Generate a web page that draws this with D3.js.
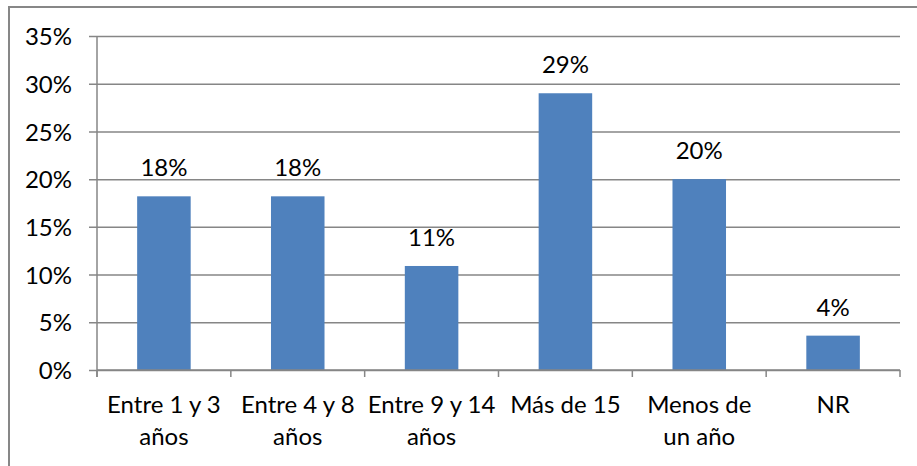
<!DOCTYPE html>
<html>
<head>
<meta charset="utf-8">
<script src="https://cdn.jsdelivr.net/npm/d3@7"></script>
<style>
  body { margin: 0; background: #fff; }
  text { font-family: Lato, "Open Sans", sans-serif; fill: #000; }
</style>
</head>
<body>
<div id="chart"></div>
<script>
// data
var categories = ["Entre 1 y 3|años", "Entre 4 y 8|años", "Entre 9 y 14|años", "Más de 15", "Menos de|un año", "NR"];
var values = [18.2, 18.2, 10.9, 29.0, 20.0, 3.6];
var valueLabels = ["18%", "18%", "11%", "29%", "20%", "4%"];
var yTicks = [0, 5, 10, 15, 20, 25, 30, 35];

var W = 917, H = 466;
var margin = {top: 36, right: 17, bottom: 96, left: 97},
    width = W - margin.left - margin.right,
    height = H - margin.top - margin.bottom;
var fontSize = "24px";

var svg = d3.select("#chart").append("svg")
    .attr("width", W)
    .attr("height", H);

// outer frame, runs off the right and bottom edge
svg.append("rect")
    .attr("x", 9).attr("y", 7)
    .attr("width", 940).attr("height", 500)
    .attr("fill", "none")
    .attr("stroke", "#878787")
    .attr("stroke-width", 2);

var g = svg.append("g")
    .attr("transform", "translate(" + margin.left + "," + margin.top + ")");

var x = d3.scaleBand()
    .domain(categories)
    .range([0, width])
    .paddingInner(0.6)
    .paddingOuter(0.3);

var y = d3.scaleLinear()
    .domain([0, 35])
    .range([height, 0]);

// gridlines + y axis
var yAxis = d3.axisLeft(y)
    .tickValues(yTicks)
    .tickSizeInner(-(width + 8))
    .tickSizeOuter(0)
    .tickPadding(0)
    .tickFormat(function(d) { return d + "%"; });

var gy = g.append("g")
    .attr("transform", "translate(" + (-8) + ",0)")
    .call(yAxis);
gy.select(".domain").remove();
gy.selectAll(".tick line")
    .attr("stroke", "#868686")
    .attr("stroke-width", 1.5);
gy.selectAll(".tick text")
    .attr("x", -17)
    .attr("dy", "0.36em")
    .style("font-size", fontSize)
    .style("font-family", "Lato, sans-serif")
    .attr("fill", "#000");

// vertical axis line
g.append("line")
    .attr("x1", 0).attr("x2", 0)
    .attr("y1", 0).attr("y2", height + 7)
    .attr("stroke", "#868686")
    .attr("stroke-width", 1.5);

// bars
g.selectAll(".bar")
    .data(values)
  .enter().append("rect")
    .attr("class", "bar")
    .attr("x", function(d, i) { return x(categories[i]); })
    .attr("y", function(d) { return y(d); })
    .attr("width", x.bandwidth())
    .attr("height", function(d) { return height - y(d); })
    .attr("fill", "#4F81BD");

// x axis: baseline and category boundary ticks
g.append("line")
    .attr("x1", 0).attr("x2", width)
    .attr("y1", height).attr("y2", height)
    .attr("stroke", "#868686")
    .attr("stroke-width", 1.5);

var step = x.step();
g.selectAll(".xtick")
    .data(d3.range(categories.length + 1))
  .enter().append("line")
    .attr("class", "xtick")
    .attr("x1", function(i) { return i * step; })
    .attr("x2", function(i) { return i * step; })
    .attr("y1", height)
    .attr("y2", height + 7)
    .attr("stroke", "#868686")
    .attr("stroke-width", 1.5);

// category labels (two lines)
var cl = g.selectAll(".cat")
    .data(categories)
  .enter().append("text")
    .attr("class", "cat")
    .attr("text-anchor", "middle")
    .style("font-size", fontSize)
    .attr("transform", function(d) { return "translate(" + (x(d) + x.bandwidth() / 2) + "," + (height + 43) + ")"; });
cl.selectAll("tspan")
    .data(function(d) { return d.split("|"); })
  .enter().append("tspan")
    .attr("x", 0)
    .attr("y", function(d, i) { return i * 32; })
    .text(function(d) { return d; });

// value labels
g.selectAll(".val")
    .data(values)
  .enter().append("text")
    .attr("class", "val")
    .attr("text-anchor", "middle")
    .style("font-size", fontSize)
    .attr("x", function(d, i) { return x(categories[i]) + x.bandwidth() / 2; })
    .attr("y", function(d) { return y(d) - 20; })
    .text(function(d, i) { return valueLabels[i]; });
</script>
</body>
</html>
